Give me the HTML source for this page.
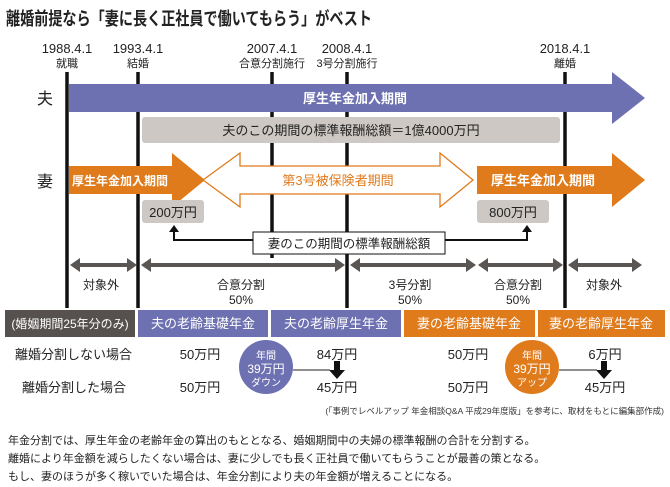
<!DOCTYPE html>
<html><head><meta charset="utf-8"><style>
body{margin:0;background:#fff;}
svg{display:block;font-family:"Liberation Sans","Noto Sans CJK JP",sans-serif;}
</style></head><body>
<svg width="670" height="487" viewBox="0 0 670 487" xmlns="http://www.w3.org/2000/svg">
<text x="6" y="25" font-size="18" font-weight="bold" fill="#222" textLength="366" lengthAdjust="spacingAndGlyphs">離婚前提なら「妻に長く正社員で働いてもらう」がベスト</text>
<g font-size="13" fill="#222" text-anchor="middle">
<text x="67" y="53">1988.4.1</text><text x="138" y="53">1993.4.1</text>
<text x="272" y="53">2007.4.1</text><text x="347" y="53">2008.4.1</text>
<text x="565" y="53">2018.4.1</text>
</g>
<g font-size="11" fill="#222" text-anchor="middle">
<text x="67" y="67">就職</text><text x="138" y="67">結婚</text>
<text x="272" y="67">合意分割施行</text><text x="347" y="67">3号分割施行</text>
<text x="565" y="67">離婚</text>
</g>
<g stroke="#111" stroke-width="3.5">
<line x1="67" y1="72" x2="67" y2="308"/><line x1="138" y1="72" x2="138" y2="308"/>
<line x1="272" y1="72" x2="272" y2="258"/><line x1="347" y1="72" x2="347" y2="308"/>
<line x1="565" y1="72" x2="565" y2="308"/>
</g>
<text x="45" y="104" font-size="16" fill="#222" text-anchor="middle">夫</text>
<text x="45" y="187" font-size="16" fill="#222" text-anchor="middle">妻</text>
<polygon points="69,84 612,84 612,72 645,98 612,124 612,112 69,112" fill="#6d70b1"/>
<text x="355" y="103" font-size="13" font-weight="bold" fill="#fff" text-anchor="middle">厚生年金加入期間</text>
<rect x="142" y="117" width="418" height="26" rx="3" fill="#cdc8c3"/>
<text x="351" y="135" font-size="13" fill="#222" text-anchor="middle">夫のこの期間の標準報酬総額＝1億4000万円</text>
<polygon points="69,166 172,166 172,153 205,180 172,207 172,194 69,194" fill="#e07b1c"/>
<text x="120" y="185" font-size="12" font-weight="bold" fill="#fff" text-anchor="middle" textLength="96" lengthAdjust="spacingAndGlyphs">厚生年金加入期間</text>
<polygon points="203,180 240,153 240,166 440,166 440,153 473,180 440,207 440,194 240,194 240,207" fill="#fff" stroke="#e07b1c" stroke-width="1.3"/>
<text x="338" y="185" font-size="13" fill="#e07b1c" text-anchor="middle">第3号被保険者期間</text>
<polygon points="477,166 612,166 612,153 645,180 612,207 612,194 477,194" fill="#e07b1c"/>
<text x="543" y="185" font-size="13" font-weight="bold" fill="#fff" text-anchor="middle">厚生年金加入期間</text>
<rect x="142" y="200" width="62" height="23" rx="3" fill="#cdc8c3"/>
<text x="173" y="217" font-size="13" fill="#222" text-anchor="middle">200万円</text>
<rect x="477" y="200" width="72" height="23" rx="3" fill="#cdc8c3"/>
<text x="513" y="217" font-size="13" fill="#222" text-anchor="middle">800万円</text>
<polyline points="174,230 174,240 527,240 527,230" fill="none" stroke="#111" stroke-width="2"/>
<polygon points="169,232 174,225 179,232" fill="#111"/><polygon points="522,232 527,225 532,232" fill="#111"/>
<rect x="253" y="232" width="192" height="22" fill="#fff" stroke="#111" stroke-width="1"/>
<text x="349" y="248" font-size="12.5" fill="#222" text-anchor="middle">妻のこの期間の標準報酬総額</text>
<g fill="#5a5654">
<polygon points="70,265 80,258 80,263 127,263 127,258 137,265 127,272 127,267 80,267 80,272"/>
<polygon points="141,265 151,258 151,263 335,263 335,258 345,265 335,272 335,267 151,267 151,272"/>
<polygon points="350,265 360,258 360,263 466,263 466,258 476,265 466,272 466,267 360,267 360,272"/>
<polygon points="478,265 488,258 488,263 553,263 553,258 563,265 553,272 553,267 488,267 488,272"/>
<polygon points="568,265 578,258 578,263 632,263 632,258 642,265 632,272 632,267 578,267 578,272"/>
</g>
<g font-size="12" fill="#222" text-anchor="middle">
<text x="101" y="289">対象外</text>
<text x="241" y="289">合意分割</text><text x="241" y="304">50%</text>
<text x="410" y="289">3号分割</text><text x="410" y="304">50%</text>
<text x="518" y="289">合意分割</text><text x="518" y="304">50%</text>
<text x="604" y="289">対象外</text>
</g>
<rect x="5" y="310" width="130" height="27" fill="#56514e"/>
<rect x="138" y="310" width="130" height="27" fill="#6d70b1"/>
<rect x="271" y="310" width="130" height="27" fill="#6d70b1"/>
<rect x="404" y="310" width="131" height="27" fill="#e07b1c"/>
<rect x="538" y="310" width="127" height="27" fill="#e07b1c"/>
<g fill="#fff" text-anchor="middle" font-size="13">
<text x="70" y="328" font-size="12">(婚姻期間25年分のみ)</text>
<text x="203" y="328">夫の老齢基礎年金</text><text x="336" y="328">夫の老齢厚生年金</text>
<text x="469" y="328">妻の老齢基礎年金</text><text x="601" y="328">妻の老齢厚生年金</text>
</g>
<g font-size="13" fill="#222">
<text x="15" y="359">離婚分割しない場合</text><text x="22" y="392">離婚分割した場合</text>
<g text-anchor="middle">
<text x="200" y="359">50万円</text><text x="200" y="392">50万円</text>
<text x="337" y="359">84万円</text><text x="337" y="392">45万円</text>
<text x="468" y="359">50万円</text><text x="468" y="392">50万円</text>
<text x="605" y="359">6万円</text><text x="605" y="392">45万円</text>
</g></g>
<circle cx="266" cy="367" r="27" fill="#6d70b1"/>
<circle cx="532" cy="367" r="27" fill="#e07b1c"/>
<g fill="#fff" text-anchor="middle">
<text x="266" y="359" font-size="10">年間</text><text x="266" y="373" font-size="12">39万円</text><text x="266" y="386" font-size="10">ダウン</text>
<text x="532" y="359" font-size="10">年間</text><text x="532" y="373" font-size="12">39万円</text><text x="532" y="386" font-size="10">アップ</text>
</g>
<line x1="293" y1="370" x2="330" y2="370" stroke="#222" stroke-width="1"/>
<line x1="559" y1="370" x2="597" y2="370" stroke="#222" stroke-width="1"/>
<polygon points="334,361 340,361 340,370 345,370 337,379 329,370 334,370" fill="#111"/>
<polygon points="601,361 607,361 607,370 612,370 604,379 596,370 601,370" fill="#111"/>
<text x="664" y="414" font-size="8.5" fill="#333" text-anchor="end">(「事例でレベルアップ 年金相談Q&amp;A 平成29年度版」を参考に、取材をもとに編集部作成)</text>
<g font-size="11" fill="#222">
<text x="8" y="444">年金分割では、厚生年金の老齢年金の算出のもととなる、婚姻期間中の夫婦の標準報酬の合計を分割する。</text>
<text x="8" y="462">離婚により年金額を減らしたくない場合は、妻に少しでも長く正社員で働いてもらうことが最善の策となる。</text>
<text x="8" y="480">もし、妻のほうが多く稼いでいた場合は、年金分割により夫の年金額が増えることになる。</text>
</g>
</svg>
</body></html>
